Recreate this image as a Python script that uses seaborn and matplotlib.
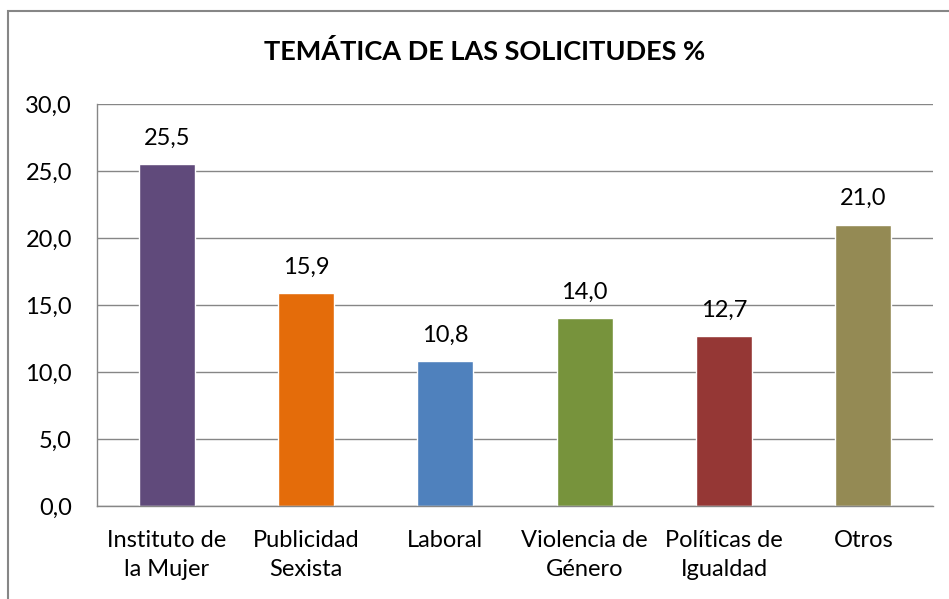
import matplotlib
matplotlib.use("Agg")
import matplotlib.pyplot as plt
import seaborn as sns
import pandas as pd
from matplotlib.patches import Rectangle

categories = ["Instituto de\nla Mujer", "Publicidad\nSexista", "Laboral",
              "Violencia de\nGénero", "Políticas de\nIgualdad", "Otros"]
values = [25.5, 15.9, 10.8, 14.0, 12.7, 21.0]
colors = ["#604A7B", "#E46C0A", "#4F81BD", "#77933C", "#953735", "#948A54"]
y_ticks = [0, 5, 10, 15, 20, 25, 30]
title = "TEMÁTICA DE LAS SOLICITUDES %"

sns.set_theme(style="white")
plt.rcParams["font.family"] = ["Lato", "DejaVu Sans"]

df = pd.DataFrame({"cat": categories, "val": values})

W, H = 949, 599
fig = plt.figure(figsize=(W / 100, H / 100), dpi=100)
ax = fig.add_axes([97 / W, 1 - 506 / H, (933 - 97) / W, (506 - 104) / H])

sns.barplot(data=df, x="cat", y="val", hue="cat", palette=colors,
            width=0.40, legend=False, ax=ax, saturation=1)

ax.set_ylim(0, 30)
ax.set_xlim(-0.5, len(categories) - 0.5)
ax.set_yticks(y_ticks)
ax.set_yticklabels([f"{v:.1f}".replace(".", ",") for v in y_ticks])
ax.yaxis.grid(True, color="#868686", linewidth=1)
ax.set_axisbelow(True)
ax.set_xlabel("")
ax.set_ylabel("")
for s in ["top", "right"]:
    ax.spines[s].set_visible(False)
for s in ["left", "bottom"]:
    ax.spines[s].set_color("#868686")
    ax.spines[s].set_linewidth(1)
ax.tick_params(axis="both", length=0, labelsize=17, colors="#000000")
ax.tick_params(axis="y", pad=18)
ax.tick_params(axis="x", pad=17)
for lbl in ax.get_xticklabels():
    lbl.set_linespacing(1.5)

for i, v in enumerate(values):
    ax.annotate(f"{v:.1f}".replace(".", ","), (i, v), xytext=(0, 11),
                textcoords="offset points", ha="center", va="bottom",
                fontsize=17, color="#000000")

fig.text(485 / W, 1 - 52 / H, title, ha="center", va="center",
         fontsize=19.5, fontweight="bold", color="#000000")

# outer chart frame
fig.patches.append(Rectangle((8 / W, -0.1), 1.2, 1 - 11 / H + 0.1,
                             transform=fig.transFigure, fill=False,
                             edgecolor="#868686", linewidth=1.5))

fig.savefig("out.png", dpi=100)
